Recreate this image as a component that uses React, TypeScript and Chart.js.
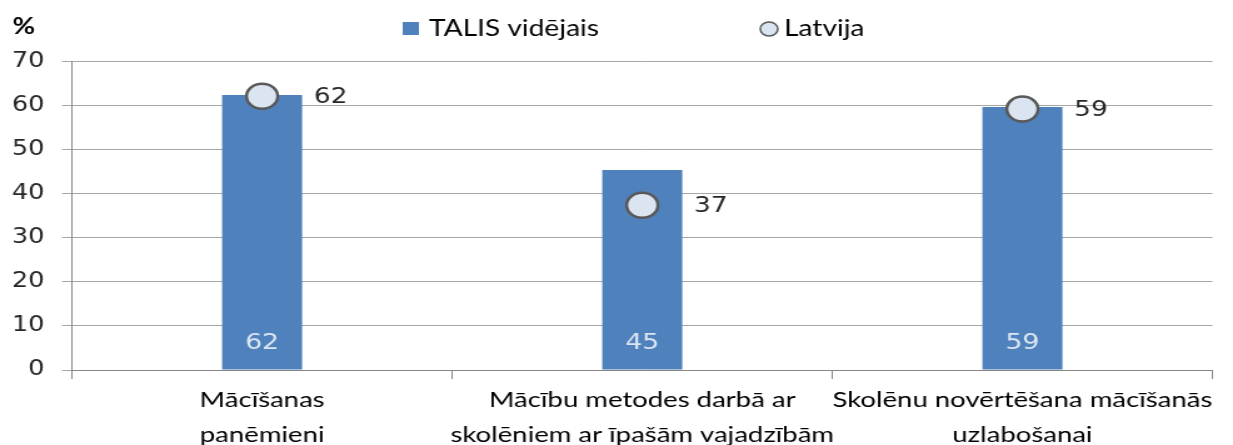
import React, { useEffect, useRef } from "react";
import { Chart, registerables } from "chart.js";

Chart.register(...registerables);

const categories: string[][] = [
  ["Mācīšanas", "panēmieni"],
  ["Mācību metodes darbā ar", "skolēniem ar īpašām vajadzībām"],
  ["Skolēnu novērtēšana mācīšanās", "uzlabošanai"],
];
const talisValues = [62.4, 45.4, 59.7];
const latvijaValues = [62.1, 37.4, 59.2];
const seriesNames = ["TALIS vidējais", "Latvija"];
const axisUnit = "%";
const yMin = 0;
const yMax = 70;
const yStep = 10;

const STRETCH = 1.25;
const PAGE_W = 1233;
const PAGE_H = 445;
const CW = Math.round(PAGE_W / STRETCH);

const BAR_COLOR = "#4f81bd";
const POINT_FILL = "#dbe5f1";
const POINT_BORDER = "#595959";
const CAT_FONT = "Lato";
const NUM_FONT = "DejaVu Sans";

const overlayPlugin = {
  id: "overlay",
  afterDraw(chart: any) {
    const ctx = chart.ctx as CanvasRenderingContext2D;
    const yScale = chart.scales.y;
    ctx.save();
    // axis unit
    ctx.fillStyle = "#000";
    ctx.textBaseline = "middle";
    ctx.textAlign = "left";
    ctx.font = `bold 22px ${CAT_FONT}`;
    ctx.fillText(axisUnit, 10, 27);
    // legend
    ctx.fillStyle = BAR_COLOR;
    ctx.fillRect(322, 22, 13, 13);
    ctx.fillStyle = "#000";
    ctx.font = `22.5px ${CAT_FONT}`;
    ctx.fillText(seriesNames[0], 343, 28.5);
    ctx.beginPath();
    ctx.arc(615, 29, 7, 0, Math.PI * 2);
    ctx.fillStyle = POINT_FILL;
    ctx.fill();
    ctx.lineWidth = 1.5;
    ctx.strokeStyle = POINT_BORDER;
    ctx.stroke();
    ctx.fillStyle = "#000";
    ctx.fillText(seriesNames[1], 627, 28.5);
    // bar labels
    const base = yScale.getPixelForValue(0);
    ctx.font = `21.5px ${NUM_FONT}`;
    ctx.textAlign = "center";
    ctx.fillStyle = "#dce6f2";
    chart.getDatasetMeta(0).data.forEach((bar: any, i: number) => {
      ctx.fillText(String(Math.floor(talisValues[i])), bar.x, base - 27);
    });
    // point labels
    ctx.textAlign = "left";
    ctx.fillStyle = "#262626";
    ctx.font = `21px ${NUM_FONT}`;
    chart.getDatasetMeta(1).data.forEach((pt: any, i: number) => {
      ctx.fillText(String(Math.floor(latvijaValues[i])), pt.x + 41.5, pt.y + 1);
    });
    ctx.restore();
  },
};

export default function App() {
  const canvasRef = useRef<HTMLCanvasElement | null>(null);

  useEffect(() => {
    if (!canvasRef.current) return;
    const chart = new Chart(canvasRef.current, {
      type: "bar",
      data: {
        labels: categories,
        datasets: [
          {
            type: "bar",
            label: seriesNames[0],
            data: talisValues,
            backgroundColor: BAR_COLOR,
            borderWidth: 0,
            barPercentage: 64 / 304,
            categoryPercentage: 1,
            order: 2,
          },
          {
            type: "line",
            label: seriesNames[1],
            data: latvijaValues,
            showLine: false,
            pointStyle: "circle",
            pointRadius: 12.5,
            pointBackgroundColor: POINT_FILL,
            pointBorderColor: POINT_BORDER,
            pointBorderWidth: 2.5,
            order: 1,
          } as any,
        ],
      },
      options: {
        responsive: false,
        maintainAspectRatio: false,
        animation: false,
        devicePixelRatio: 1,
        layout: { padding: { top: 61.5, right: CW - 969.6, left: 0, bottom: 0 } },
        plugins: {
          legend: { display: false },
          tooltip: { enabled: false },
        },
        scales: {
          x: {
            offset: true,
            grid: {
              offset: true,
              drawOnChartArea: false,
              drawTicks: true,
              tickLength: 9,
              color: "#868686",
            },
            border: { color: "#868686", width: 1 },
            ticks: {
              color: "#000",
              padding: 3,
              maxRotation: 0,
              autoSkip: false,
              font: { family: CAT_FONT, size: 22, lineHeight: 1.6 },
            },
            afterFit(scale: any) {
              scale.height = PAGE_H - 370;
            },
          },
          y: {
            min: yMin,
            max: yMax,
            ticks: {
              stepSize: yStep,
              color: "#262626",
              padding: 14,
              font: { family: NUM_FONT, size: 20.5 },
            },
            grid: {
              color: "#a6a6a6",
              tickLength: 8,
              drawTicks: true,
            },
            border: { color: "#868686", width: 1 },
            afterFit(scale: any) {
              scale.width = 57.6;
            },
          },
        },
      },
      plugins: [overlayPlugin],
    });
    return () => chart.destroy();
  }, []);

  return (
    <div
      style={{
        position: "fixed",
        left: 0,
        top: 0,
        width: PAGE_W,
        height: PAGE_H,
        overflow: "hidden",
        background: "#fff",
      }}
    >
      <div
        style={{
          width: CW,
          height: PAGE_H,
          transform: `scaleX(${PAGE_W / CW})`,
          transformOrigin: "0 0",
        }}
      >
        <canvas ref={canvasRef} width={CW} height={PAGE_H} style={{ display: "block" }} />
      </div>
    </div>
  );
}
